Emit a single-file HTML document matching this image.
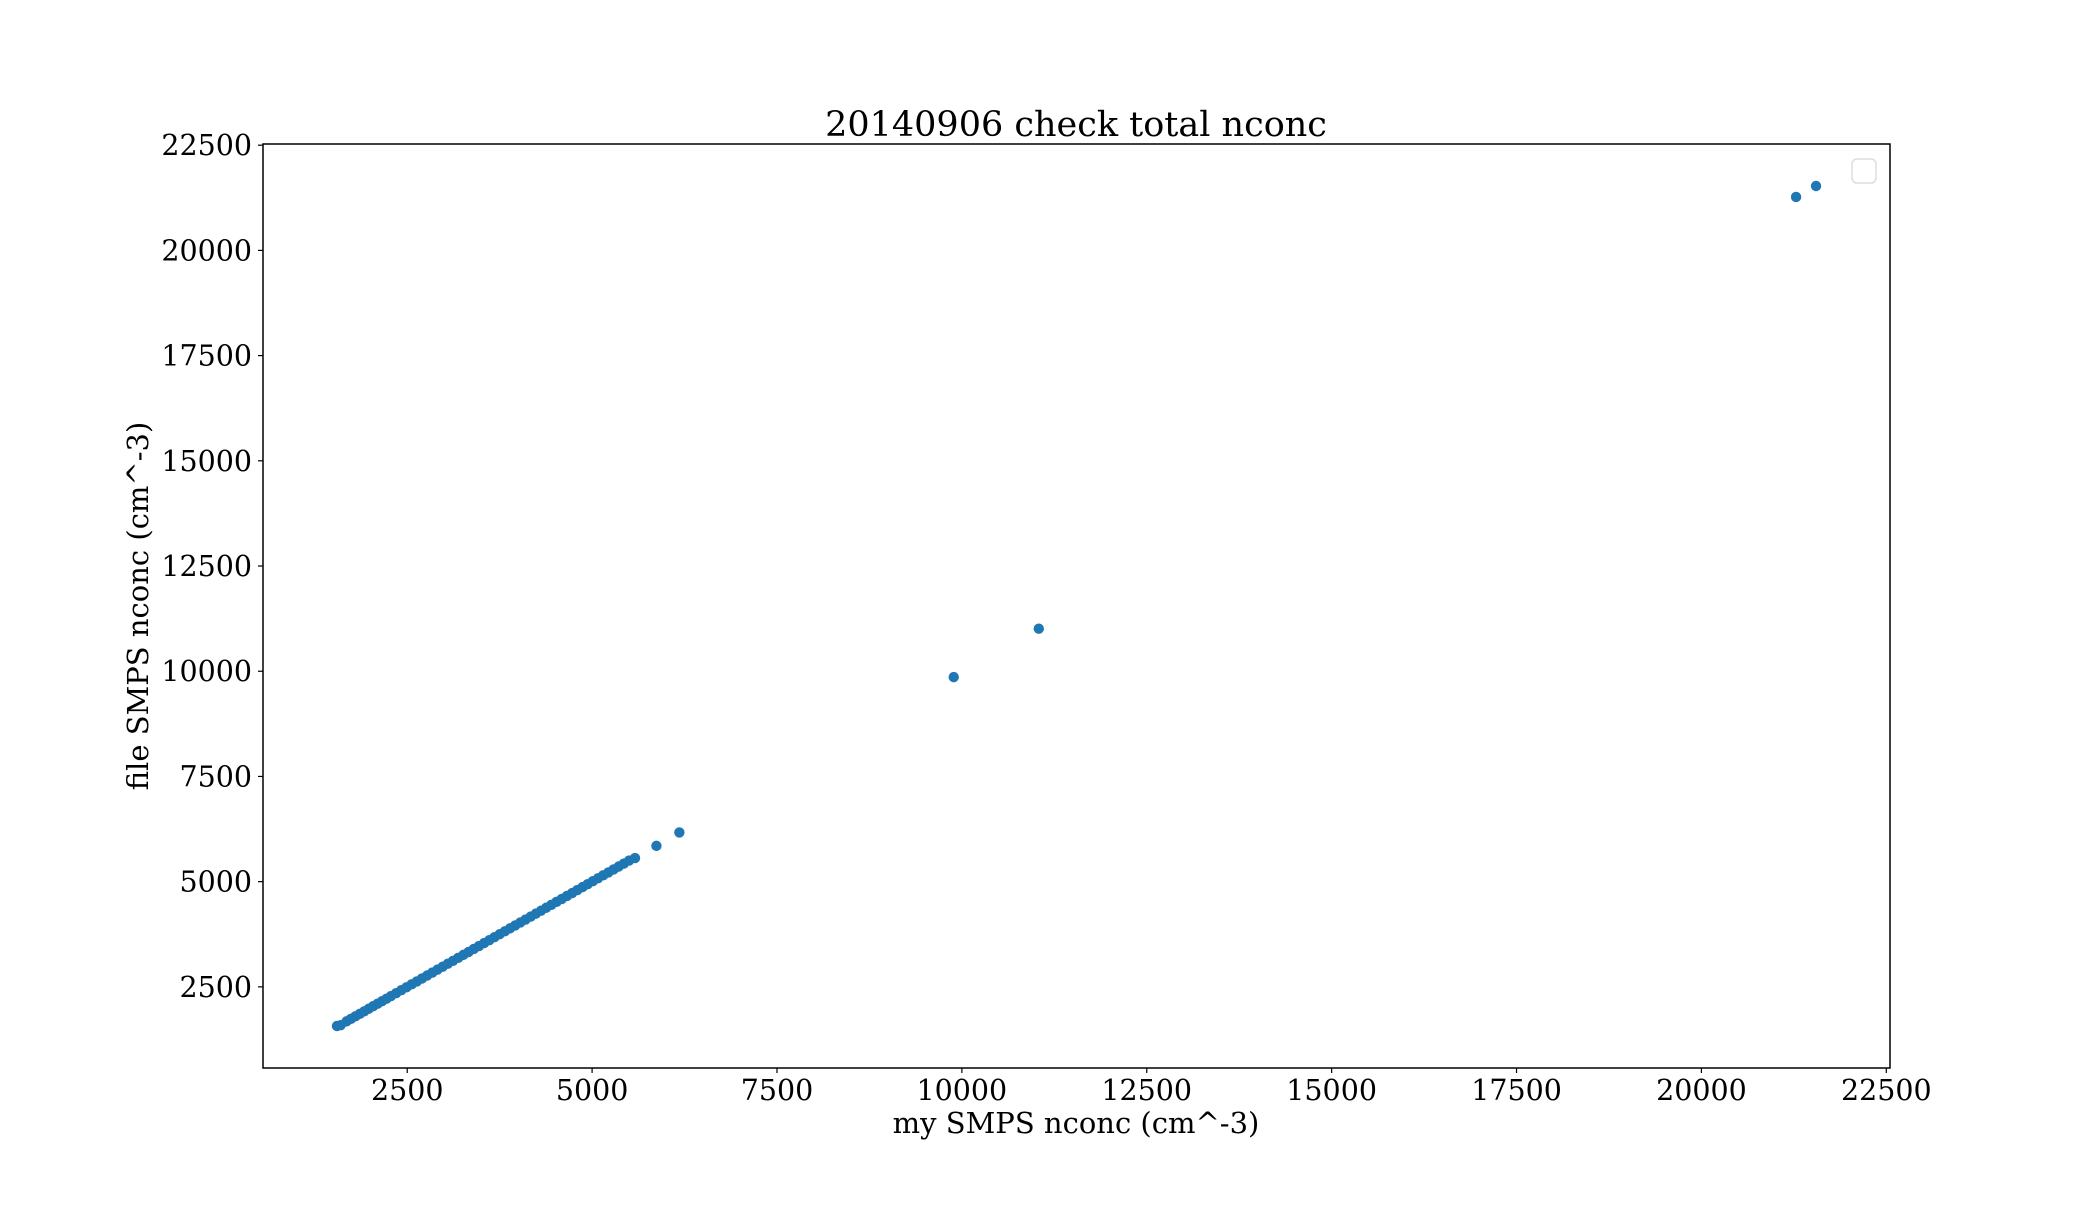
<!DOCTYPE html>
<html><head><meta charset="utf-8"><style>
html,body{margin:0;padding:0;background:#fff;}
svg text{font-family:"DejaVu Serif","Liberation Serif",serif;fill:#000;}
</style></head><body>
<svg id="chart" width="2100" height="1200" xmlns="http://www.w3.org/2000/svg">
<rect width="2100" height="1200" fill="#fff"/>
<text x="1076" y="136" font-size="35" text-anchor="middle">20140906 check total nconc</text>
<g id="points"></g>
<g id="xticks"></g>
<g id="yticks"></g>
<rect x="263" y="144" width="1627" height="924" fill="none" stroke="#000" stroke-width="1.5"/>
<rect x="1852" y="159" width="24" height="24" rx="5" fill="#fff" stroke="#ddd" stroke-width="1.5"/>
<text x="1076" y="1133" font-size="29" text-anchor="middle">my SMPS nconc (cm^-3)</text>
<text x="0" y="0" font-size="29" text-anchor="middle" transform="translate(148,606) rotate(-90)">file SMPS nconc (cm^-3)</text>
</svg>
<script>
const xVals=[1550,1600,1680,1740,1800,1860,1920,1980,2040,2100,2160,2220,2280,2350,2420,2490,2560,2630,2700,2770,2840,2910,2980,3050,3120,3190,3260,3330,3400,3470,3540,3610,3680,3750,3820,3890,3960,4030,4100,4170,4240,4310,4380,4450,4520,4590,4660,4730,4800,4870,4940,5010,5080,5150,5220,5290,5360,5430,5500,5580,5870,6180,9890,11040,21280,21550];
const yVals=[1570,1590,1680,1740,1800,1860,1920,1980,2040,2100,2160,2220,2280,2350,2420,2490,2560,2630,2700,2770,2840,2910,2980,3050,3120,3190,3260,3330,3400,3470,3540,3610,3680,3750,3820,3890,3960,4030,4100,4170,4240,4310,4380,4450,4520,4590,4660,4730,4800,4870,4940,5010,5080,5150,5220,5290,5360,5430,5500,5560,5850,6170,9860,11010,21270,21530];
const xTicks=[2500,5000,7500,10000,12500,15000,17500,20000,22500];
const yTicks=[2500,5000,7500,10000,12500,15000,17500,20000,22500];
const X0=263,X1=1890,Y0=1068,Y1=144,xmin=550,xmax=22550,ymin=572,ymax=22528;
function sx(v){return X0+(v-xmin)/(xmax-xmin)*(X1-X0);}
function sy(v){return Y0-(v-ymin)/(ymax-ymin)*(Y0-Y1);}
const NS="http://www.w3.org/2000/svg";
const pg=document.getElementById('points');
for(let i=0;i<xVals.length;i++){
  const c=document.createElementNS(NS,'circle');
  c.setAttribute('cx',sx(xVals[i]));c.setAttribute('cy',sy(yVals[i]));c.setAttribute('r',5.2);c.setAttribute('fill','#1f77b4');
  
  
  pg.appendChild(c);
}
const xg=document.getElementById('xticks');
xTicks.forEach(t=>{
  const x=sx(t);
  const l=document.createElementNS(NS,'line');
  l.setAttribute('x1',x);l.setAttribute('x2',x);l.setAttribute('y1',Y0);l.setAttribute('y2',Y0+5);l.setAttribute('stroke','#000');l.setAttribute('stroke-width','1.2');
  
  
  xg.appendChild(l);
  const tx=document.createElementNS(NS,'text');
  tx.setAttribute('x',x);tx.setAttribute('y',Y0+32);tx.setAttribute('font-size','28.5');tx.setAttribute('text-anchor','middle');tx.textContent=t;
  
  
  xg.appendChild(tx);
});
const yg=document.getElementById('yticks');
yTicks.forEach(t=>{
  const y=sy(t);
  const l=document.createElementNS(NS,'line');
  l.setAttribute('x1',X0-5);l.setAttribute('x2',X0);l.setAttribute('y1',y);l.setAttribute('y2',y);l.setAttribute('stroke','#000');l.setAttribute('stroke-width','1.2');
  
  
  yg.appendChild(l);
  const tx=document.createElementNS(NS,'text');
  tx.setAttribute('x',X0-11);tx.setAttribute('y',y+10);tx.setAttribute('font-size','28.5');tx.setAttribute('text-anchor','end');tx.textContent=t;
  
  
  yg.appendChild(tx);
});
</script>
</body></html>
